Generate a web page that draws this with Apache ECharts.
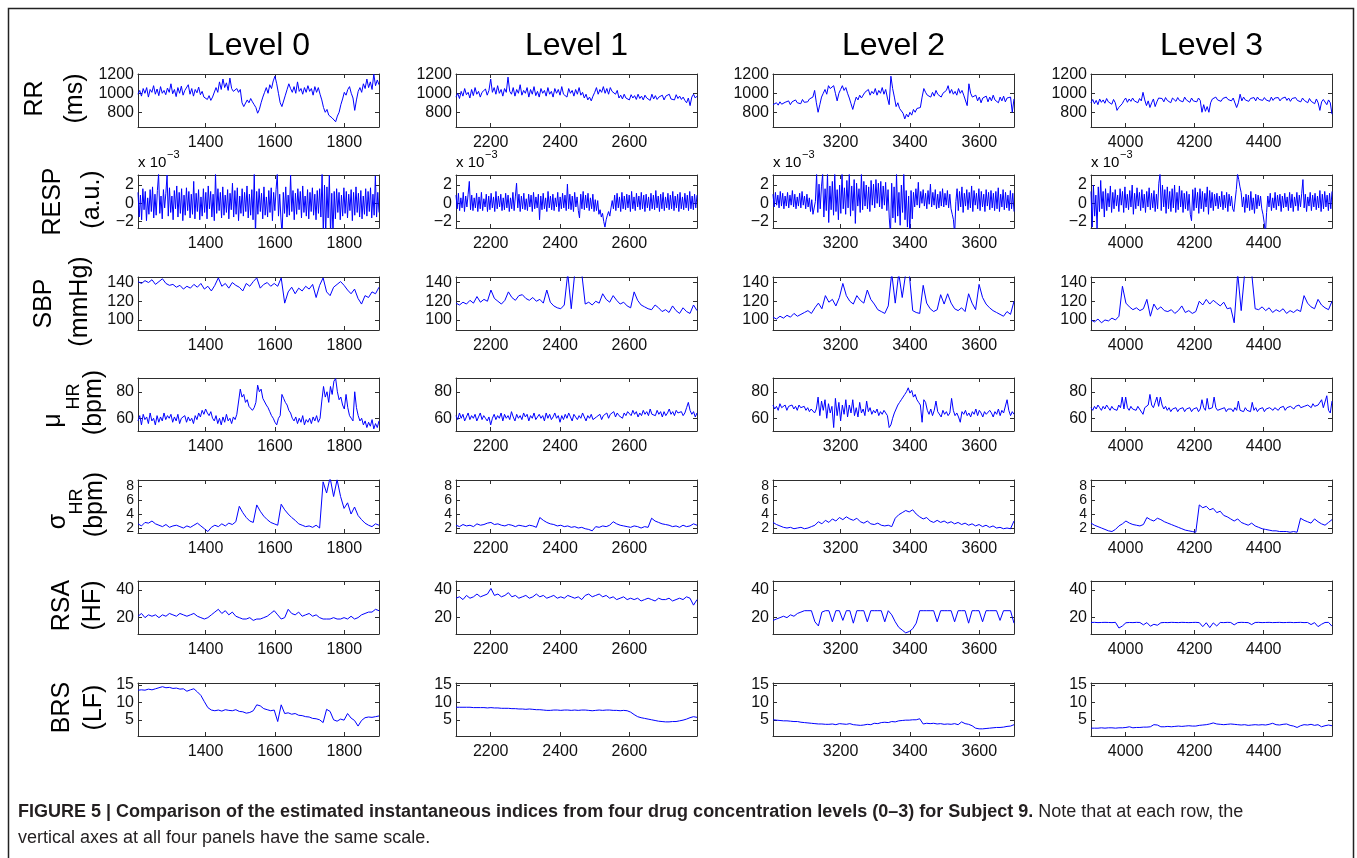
<!DOCTYPE html>
<html>
<head>
<meta charset="utf-8">
<title>Figure 5</title>
<script src="https://cdn.jsdelivr.net/npm/echarts@6/dist/echarts.min.js"></script>
<style>
  html, body { margin: 0; padding: 0; background: #fff; }
  #chart { width: 1357px; height: 858px; }
</style>
</head>
<body>
<div id="chart"></div>
<script>
// column titles, x ranges and ticks
const levels = ['Level 0', 'Level 1', 'Level 2', 'Level 3'];
const xRanges = [[1205, 1900], [2100, 2795], [3005, 3700], [3900, 4598]];
const xTicks = [[1400, 1600, 1800], [2200, 2400, 2600], [3200, 3400, 3600], [4000, 4200, 4400]];

// row scales (same for all four panels of a row)
const yRanges = [[645, 1203], [-2.7, 3.1], [89.3, 145.9], [50.4, 90.4], [1.29, 8.86], [8.2, 46.4], [0.35, 15.56]];
const yTicks = [[800, 1000, 1200], [-2, 0, 2], [100, 120, 140], [60, 80], [2, 4, 6, 8], [20, 40], [5, 10, 15]];

// RR (ms)
const rr0 = [990,1030,970,1050,1000,1060,960,1040,1010,1080,990,1045,975,1070,1000,1030,985,1055,1010,1100,
  995,1040,965,1060,1000,1075,980,1030,1010,1090,990,1050,970,1040,1005,1065,985,1020,960,950,
  935,975,925,960,940,1060,1010,1120,1040,1150,1060,1110,1030,1160,1050,1020,1000,1050,1010,1040,
  900,860,880,930,900,945,910,880,850,790,830,900,960,1010,1060,1000,1090,1050,1130,1180,
  1100,1000,900,860,880,980,1040,1100,1050,1010,1070,1000,1120,1020,1050,990,1060,1010,1080,1020,
  1050,980,1070,1010,1060,990,930,850,800,830,770,790,740,760,700,760,800,880,940,1010,
  980,1040,1070,1000,950,820,930,1020,1060,1010,1100,1050,1150,1060,1120,1040,1200,1080,1140,1090];
const rr1 = [960,1000,945,1020,970,1050,985,1010,950,1040,975,1060,990,1020,960,1010,1000,1045,980,1030,
  1150,1010,1060,990,1080,1000,1040,970,1050,1010,1170,1020,990,1060,970,1040,1000,1090,980,1030,
  1000,1060,960,1040,990,1070,975,1020,960,1050,1000,1030,970,1060,990,1020,960,1050,1000,1040,
  980,1070,990,1010,960,1050,1000,1030,970,1040,990,1060,980,1010,950,990,930,960,920,970,
  1010,1060,990,1040,1010,1070,1000,1050,990,1060,1020,1040,990,1030,950,980,940,990,950,970,
  930,985,950,975,935,990,945,970,930,980,950,965,925,990,940,975,935,960,945,980,
  930,970,950,990,940,960,930,985,945,970,935,960,925,900,950,870,960,990,950,970];
const rr2 = [880,860,900,875,910,885,870,905,890,920,880,910,895,930,900,915,890,935,905,925,
  910,940,920,960,1030,900,800,880,960,1000,1040,990,1080,1050,1070,1080,1000,920,1000,1040,
  1080,1030,1060,1000,950,890,830,900,960,930,980,950,970,1010,990,1040,980,1020,995,1050,
  980,1030,1000,1060,990,1040,950,880,1180,1050,960,860,900,840,860,790,730,780,750,800,
  770,830,800,840,820,850,960,1050,1010,980,1000,960,1010,970,1030,990,1010,960,1000,980,
  1030,1080,1000,1040,990,1020,980,1050,1000,1030,980,1000,870,1100,1000,960,940,980,920,960,
  900,950,930,970,910,960,920,980,930,950,900,960,920,970,910,950,930,960,800,940];
const rr3 = [900,935,890,925,880,940,905,930,895,945,910,925,885,935,900,820,850,830,890,925,
  950,905,940,915,950,920,935,900,945,920,1010,930,870,920,850,900,940,860,910,950,
  930,945,910,955,925,940,900,950,930,915,955,925,945,910,960,930,940,905,950,920,
  940,910,950,925,800,880,810,860,800,900,940,920,960,930,950,915,945,925,960,935,
  945,920,950,930,850,900,990,920,960,930,950,915,945,930,955,920,960,935,950,925,
  955,930,945,915,960,925,950,930,955,920,945,935,960,925,950,915,945,930,955,925,
  940,910,950,925,935,900,945,915,930,890,940,900,820,910,935,945,880,930,900,780];

// RESP (x 10^-3 a.u.)
const resp0 = [1.2,-1.5,0.9,-1.8,1.6,-0.7,1.3,-1.9,0.6,-1.2,1.5,-0.9,1.8,-1.6,1.0,-1.3,1.4,3.2,-1.1,0.8,
  -1.7,1.5,-0.5,1.1,3.1,-1.4,1.7,-1.0,0.8,-1.8,1.4,-0.6,1.9,-1.5,1.2,-1.1,1.6,-1.9,0.9,-1.3,
  1.7,-0.8,1.3,-1.6,1.0,-1.2,2.4,-1.7,1.1,-0.9,1.5,-1.8,0.7,-1.4,1.6,-1.0,1.2,-1.7,1.9,-0.6,
  1.3,-1.5,1.0,-1.9,3.2,-1.1,1.6,-0.8,1.2,-1.6,1.8,-1.3,0.9,-1.0,1.5,-1.7,1.1,-0.7,2.2,-1.5,
  1.4,-1.2,1.7,-1.9,0.8,-1.1,1.6,-1.4,1.2,-0.9,1.9,-1.6,1.0,-1.3,1.5,-1.8,3.2,-3.4,1.3,-1.2,
  1.6,-0.9,1.1,-1.7,1.8,-1.3,0.7,-1.5,1.4,-1.0,1.7,-1.9,1.2,-0.8,1.5,3.2,-1.4,1.0,-1.6,-3.4,
  1.2,-1.1,1.8,-1.5,0.9,-1.3,3.1,-0.9,1.4,-1.8,1.1,-1.2,1.6,-0.7,1.3,-1.6,1.9,-1.0,0.8,-1.4,
  1.5,-1.7,1.2,-0.9,1.7,-1.3,1.0,-1.8,1.4,-1.1,1.6,-1.5,3.2,-3.4,2.0,-3.4,1.8,-1.6,3.1,-3.4,
  1.1,-3.4,1.3,-1.7,1.6,-1.0,1.2,-1.8,0.9,-1.4,1.7,-1.1,1.3,-1.6,1.0,-0.8,1.5,-1.9,1.2,-1.3,
  1.8,-1.0,1.1,-1.5,1.4,-1.7,0.8,-1.2,1.6,-1.4,1.3,-0.9,1.7,-1.6,1.0,-1.3,3.0,-1.5,1.2,-1.0];
const resp1 = [0.9,-0.6,1.1,-0.8,0.6,-0.5,1.2,-0.9,0.8,-0.4,1.0,2.4,-0.7,0.9,-0.8,0.6,-0.5,1.1,-0.9,0.7,
  -0.6,1.2,-0.8,0.5,-0.4,1.0,-0.9,0.8,-0.7,1.1,-0.5,0.7,-0.9,1.3,-0.6,0.8,-0.4,1.0,-0.8,0.6,
  -0.7,1.1,-0.5,0.9,-0.9,0.6,-0.6,1.2,-0.8,0.7,2.2,-0.5,1.0,-0.9,0.8,-0.6,1.1,-0.7,0.5,-0.8,
  1.0,-0.4,0.9,-0.9,1.2,-0.6,0.7,-0.5,1.0,-1.8,0.8,-0.7,1.1,-0.6,0.6,-0.9,1.3,-0.5,0.8,-0.7,
  1.0,-0.8,0.6,-0.4,1.2,-0.9,0.7,-0.6,1.1,-0.5,0.9,-0.8,2.1,-0.6,1.0,-0.7,0.8,-0.9,1.2,-0.4,
  0.7,-0.8,-1.6,1.0,-0.6,1.3,-0.7,0.9,-0.5,1.1,-0.8,0.6,-0.6,1.0,-0.9,0.4,-0.8,0.3,-1.2,-0.7,
  -1.5,-1.1,-2.0,-2.6,-1.8,-1.3,-0.9,-1.4,-0.5,0.3,-0.6,0.9,-0.8,1.1,-0.5,0.7,-0.9,1.2,-0.6,0.8,
  -0.7,1.0,-0.5,0.9,-0.9,1.3,-0.6,0.7,-0.8,1.1,-0.4,0.8,-0.7,1.2,-0.6,0.9,-0.9,1.0,-0.5,0.7,
  -0.8,1.1,-0.6,0.9,-0.7,1.4,-0.5,0.8,-0.9,1.0,-0.6,1.2,-0.8,0.7,-0.5,1.1,-0.7,0.9,-0.6,1.3,
  -0.8,0.8,-0.5,1.0,-0.9,1.2,-0.6,0.7,-0.7,1.1,-0.5,0.9,-0.8,1.3,-0.6,0.8,-0.7,1.0,-0.5,0.9];
const resp2 = [1.0,-0.4,1.2,-0.2,0.9,-0.5,1.3,-0.3,1.1,-0.6,0.8,-0.3,1.2,-0.5,0.9,-0.2,1.4,-0.4,1.0,-0.6,
  0.7,-0.3,1.1,-0.5,1.3,-0.2,0.8,-0.6,1.0,-0.4,0.6,-0.9,0.4,-1.2,-1.4,0.2,3.2,-1.0,2.1,-0.6,
  1.8,3.2,-1.5,1.6,-0.8,3.2,-2.1,1.9,-0.7,2.4,-1.3,3.2,-0.9,1.5,-1.8,2.0,-1.1,3.2,-0.6,1.7,
  -1.2,2.5,-0.5,3.2,-1.4,1.9,-0.8,2.6,-2.2,2.2,-0.3,1.6,-1.0,3.2,-0.7,2.4,-0.3,2.0,-0.6,1.8,
  -0.9,2.5,-0.2,2.1,-0.5,2.6,0.0,2.2,-0.4,2.4,-0.6,1.9,-0.2,2.3,-0.8,1.5,-1.6,-3.4,2.2,-1.6,
  1.8,-2.1,3.2,-1.4,1.2,-2.4,2.0,-1.0,3.2,-1.8,1.4,-2.6,0.8,-3.4,1.4,-1.7,1.2,-0.4,1.6,-0.2,
  2.3,-0.5,1.3,0.0,1.5,-0.3,1.1,-0.6,1.4,-0.1,2.1,-0.4,1.2,-0.2,1.5,-0.6,1.0,-0.5,1.3,-0.3,
  1.6,-0.4,1.1,-0.2,1.4,-0.5,1.0,-0.6,-1.2,-1.8,-3.4,0.2,1.6,-0.8,1.3,-0.4,1.8,-1.0,1.1,-0.3,
  1.5,-0.7,1.2,-0.5,1.9,-0.9,1.4,-0.2,1.1,-0.6,1.6,-0.8,1.3,-0.4,1.0,-0.9,1.5,-0.3,1.2,-0.7,
  1.4,-0.5,1.1,-0.8,1.3,-0.6,1.7,-0.9,1.0,-0.4,1.5,-0.7,1.2,-0.5,0.9,-0.8,1.4,-0.6,1.1,-0.9];
const resp3 = [1.3,-2.6,2.0,-1.4,0.9,-2.8,1.8,-0.9,2.5,-0.6,1.3,-1.5,1.6,-0.8,1.1,-0.4,1.9,-1.0,1.2,-0.6,
  1.5,-0.3,0.9,-0.9,1.6,-0.2,1.3,-1.0,1.8,-0.5,1.0,-0.7,1.4,-0.4,2.0,-1.2,1.1,-0.6,1.7,-0.3,
  1.2,-0.8,1.5,-0.5,1.0,-1.0,1.3,-0.4,1.7,-0.7,1.1,-0.5,1.4,-0.9,1.0,-0.6,2.2,3.2,-0.8,2.0,
  -0.4,1.5,-1.1,1.8,-0.6,1.3,-0.9,1.6,-0.5,2.0,-1.0,1.2,-0.7,1.9,-0.4,1.4,-1.0,1.1,-0.6,1.3,
  -0.8,1.0,-1.2,-1.9,1.5,-0.8,1.7,-0.5,1.2,-1.1,1.6,-0.6,1.3,-0.9,1.1,-0.4,1.8,-1.2,1.4,-0.5,
  1.2,-0.8,1.0,-0.3,1.1,-0.6,0.8,-0.4,1.3,-0.7,0.9,-0.5,1.2,-0.9,1.0,-0.3,0.8,-0.6,-0.9,-1.0,
  1.5,3.2,2.6,1.8,1.2,-0.4,0.7,-1.0,1.0,-0.5,0.9,-0.8,1.3,-0.7,0.6,-1.1,1.0,-0.6,0.9,-0.3,
  0.8,-0.6,-1.2,-2.1,-3.4,-1.0,0.8,-0.4,1.1,-0.8,0.6,-0.5,1.2,-0.7,0.9,-0.3,1.0,-0.9,0.8,-0.5,
  1.1,-0.4,0.7,-0.8,1.2,-0.5,1.0,-0.9,0.7,-0.3,1.2,-0.8,0.9,-0.4,1.1,2.6,-0.5,1.0,-0.9,0.7,
  -0.3,1.2,-0.8,0.9,-0.4,1.1,-0.7,0.8,-0.5,1.4,-0.9,1.0,-0.6,1.3,-0.4,0.9,-0.8,1.1,-0.6,1.3];

// SBP (mmHg)
const sbp0 = [141,139,142,140,143,138,141,144,139,137,138,135,137,133,136,134,138,135,139,133,
  136,131,137,145,136,139,134,140,137,135,131,139,136,141,145,134,138,140,136,139,
  136,145,118,130,135,128,134,131,136,133,138,124,137,145,130,126,135,138,141,137,
  132,128,133,123,117,126,124,130,128,135];
const sbp1 = [118,116,119,117,121,118,125,119,122,120,132,123,120,117,121,130,124,121,126,127,
  123,121,124,120,122,118,132,119,115,113,112,116,150,112,150,150,150,117,119,116,
  120,118,128,122,119,126,121,117,119,115,113,130,121,116,114,112,111,116,113,109,
  111,108,115,110,107,113,109,107,116,110];
const sbp2 = [103,101,104,102,105,103,107,104,106,108,110,107,113,118,112,126,119,122,115,124,
  139,126,120,117,126,121,118,132,122,117,111,109,107,115,150,118,150,124,150,150,
  110,108,107,137,118,112,109,111,127,117,128,118,112,110,113,109,128,118,111,138,
  124,117,113,110,108,106,104,109,106,120];
const sbp3 = [100,98,101,97,100,99,102,100,104,136,118,114,111,113,110,112,122,104,117,111,
  114,110,109,111,107,110,115,108,110,107,109,120,116,122,117,121,118,115,119,112,
  113,97,150,110,150,150,150,112,111,114,110,113,108,111,109,112,107,110,108,111,
  109,126,118,114,112,122,116,113,111,120];

// mu_HR (bpm)
const mu0 = [58,62,55,63,59,61,56,64,58,60,55,62,57,61,58,64,59,62,60,63,
  57,61,58,63,56,60,59,62,57,61,58,60,56,62,59,64,61,66,63,67,
  64,62,65,60,58,62,56,60,55,61,57,63,58,60,56,61,59,63,62,
  82,76,78,72,74,69,70,66,68,72,85,80,82,75,76,70,68,65,62,60,57,
  55,60,62,78,75,72,70,66,64,60,
  58,61,56,60,57,62,55,59,57,60,56,61,58,62,57,60,
  73,84,76,80,72,84,78,88,90,80,74,76,70,67,
  78,68,62,60,58,80,68,62,58,60,
  55,58,53,57,54,59,52,56,53,58];
const mu1 = [62,59,64,60,63,58,61,64,59,62,60,63,58,61,64,59,62,60,58,61,
  55,60,63,59,62,60,64,58,63,60,62,59,65,61,58,63,60,62,59,64,
  61,63,58,62,60,64,59,61,63,60,62,58,64,60,63,59,61,64,60,62,
  57,62,59,63,60,64,61,58,63,61,59,62,60,64,61,58,62,60,63,59,
  58,61,60,63,59,62,61,64,60,63,62,65,61,64,62,63,60,64,62,65,
  64,62,66,63,65,61,64,62,66,63,65,62,67,63,64,62,66,63,65,61,
  65,62,64,67,63,65,62,66,64,63,65,62,64,68,72,66,63,65,61,64];
const mu2 = [70,67,69,66,71,68,67,70,66,69,68,70,67,69,66,70,68,67,69,66,
  68,65,67,66,64,67,
  76,62,73,66,74,60,71,64,69,53,75,62,72,58,70,63,74,
  61,70,64,74,62,68,61,72,64,67,62,73,65,68,63,66,64,67,62,65,63,66,64,
  62,53,55,60,
  64,67,70,72,74,76,78,80,83,79,
  81,76,78,74,72,70,57,74,72,66,
  63,67,62,66,73,65,64,61,66,63,65,62,64,75,66,62,64,61,57,65,
  63,66,62,64,61,65,63,67,62,66,64,61,65,63,62,66,64,61,65,63,
  67,62,66,64,63,74,66,62,65,63];
const mu3 = [68,66,69,67,70,68,66,69,67,70,68,66,69,67,68,66,70,68,76,67,
  76,68,66,69,67,68,66,69,67,66,63,68,67,70,78,70,68,72,76,69,
  76,70,67,69,66,68,65,67,66,68,65,67,66,68,65,67,66,68,65,67,
  66,68,65,67,74,68,66,75,67,66,68,76,68,66,65,67,66,68,65,67,
  66,67,65,68,66,73,66,67,65,68,66,67,65,72,66,68,65,67,66,68,
  65,67,66,68,67,66,68,67,66,68,67,69,66,68,67,69,68,67,69,68,
  70,68,67,69,68,70,69,68,71,69,68,70,69,74,68,67,77,66,64,73];

// sigma_HR (bpm)
const sd0 = [2.6,2.3,2.8,2.7,3.0,2.6,2.4,2.2,2.5,2.1,2.3,2.4,2.2,2.0,2.3,2.1,2.4,2.7,2.3,1.9,
  1.5,2.1,2.4,2.2,2.6,2.3,2.7,2.5,2.9,5.1,4.2,3.5,3.0,2.8,5.3,4.4,3.7,3.2,2.8,2.6,
  2.4,5.4,4.6,4.0,3.5,3.1,2.6,2.4,2.2,2.3,2.1,2.4,2.0,8.6,7.0,9.2,6.5,8.9,6.5,4.8,
  5.6,4.0,5.0,3.8,3.2,2.7,2.4,2.2,2.6,2.4];
const sd1 = [2.4,2.2,2.5,2.3,2.4,2.2,2.6,2.4,2.5,2.7,2.8,2.5,2.6,2.4,2.3,2.5,2.4,2.2,2.4,2.3,
  2.2,2.4,2.3,2.1,3.5,3.1,2.8,2.6,2.5,2.3,2.4,2.2,2.3,2.1,2.2,2.0,2.1,1.9,1.8,1.6,
  2.2,2.1,2.3,2.2,2.4,2.9,2.6,2.4,2.3,2.2,2.1,2.3,2.2,2.0,2.2,2.1,3.4,3.0,2.8,2.6,
  2.5,2.4,2.2,2.3,2.1,2.4,2.2,2.3,2.6,2.4];
const sd2 = [2.8,2.5,2.3,2.1,2.0,2.1,1.9,2.0,2.1,1.9,2.0,2.2,2.4,2.9,2.6,3.1,2.8,3.3,3.0,3.5,
  3.2,3.6,3.3,3.1,3.4,2.9,2.7,3.0,2.6,2.5,2.7,2.4,2.3,2.4,2.2,3.4,3.9,4.2,4.5,4.3,
  4.6,4.0,3.6,3.3,3.5,3.0,2.8,3.1,2.8,3.0,2.7,2.9,2.6,2.8,2.5,2.7,2.4,2.6,2.3,2.5,
  2.2,2.4,2.1,2.3,2.0,2.1,1.9,2.0,1.9,3.0];
const sd3 = [2.7,2.4,2.2,2.0,1.8,1.6,1.5,1.8,2.3,2.6,3.0,2.7,2.5,2.4,2.3,2.5,3.5,3.2,3.0,3.4,
  3.2,2.9,2.7,2.5,2.3,2.1,1.9,1.7,1.6,1.5,1.4,5.3,4.9,5.1,4.6,4.8,4.2,4.4,3.8,3.6,
  3.3,3.0,3.3,2.8,2.6,2.4,2.7,2.3,2.1,1.9,1.8,1.7,1.6,1.6,1.5,1.5,1.5,1.4,1.5,1.4,
  3.4,3.1,2.9,2.7,3.3,2.9,2.6,2.4,2.8,3.2];

// RSA (HF)
const rsa0 = [21,23,20,22,21,22,20,22,21,23,22,21,23,22,21,22,23,21,20,19,
  20,22,24,26,23,25,22,24,21,20,19,19,20,18,19,19,20,21,23,25,
  22,19,20,26,23,22,24,21,22,23,21,22,20,19,19,19,20,19,19,20,
  19,21,19,20,22,23,24,24,26,25];
const rsa1 = [34,35,33,36,34,35,37,35,36,37,41,36,37,35,36,38,35,36,34,35,
  36,34,35,37,35,36,34,35,36,34,35,34,36,35,34,35,33,36,37,35,
  36,37,35,36,34,35,33,34,35,33,34,33,34,32,33,34,33,32,34,33,
  33,34,32,33,34,33,35,34,29,33];
const rsa2 = [18,19,20,21,20,22,21,23,24,25,25,25,17,14,24,25,25,17,25,25,
  18,25,25,16,25,25,25,17,25,25,25,25,17,25,22,17,13,11,9,10,
  12,16,25,25,25,25,25,17,25,25,25,25,17,25,25,25,16,25,25,25,
  17,25,25,25,25,18,25,25,25,16];
const rsa3 = [16.5,16.6,16.4,16.5,16.6,16.5,16.4,16.6,12.5,14.0,16.3,16.5,16.4,16.6,16.5,14.8,16.4,13.8,15.2,14.5,
  16.3,16.5,16.4,16.6,16.5,16.4,16.6,16.5,16.4,16.5,16.6,16.4,13.5,16.3,12.8,16.2,14.0,16.5,16.4,16.6,
  16.5,14.8,16.4,16.6,16.5,16.4,15.0,16.5,16.6,16.4,16.5,16.6,16.4,16.5,16.6,16.4,16.5,16.6,16.4,16.5,
  16.6,16.4,16.5,15.0,16.4,13.5,15.2,16.5,16.6,13.8];

// BRS (LF)
const brs0 = [13.5,13.6,13.5,13.8,13.6,13.9,14.2,14.5,14.2,14.3,14.0,14.1,13.8,13.9,13.2,13.6,13.9,13.0,12.0,10.2,
  8.5,7.8,7.6,7.8,7.5,7.9,7.7,7.6,7.9,7.4,7.3,6.9,7.1,7.6,9.3,9.0,8.2,7.9,7.6,7.8,
  4.5,9.3,6.8,7.0,6.6,6.8,6.3,6.2,5.9,5.8,5.4,5.3,5.0,4.2,8.0,7.4,5.0,4.6,5.2,4.9,
  6.8,5.5,4.8,3.2,4.8,5.6,5.8,5.7,5.9,6.1];
const brs1 = [8.6,8.6,8.6,8.6,8.6,8.5,8.5,8.5,8.5,8.4,8.5,8.4,8.4,8.3,8.3,8.3,8.2,8.2,8.1,8.1,
  8.0,8.1,8.0,7.9,7.9,7.8,7.7,7.7,7.8,7.8,7.7,7.8,7.8,7.7,7.8,7.7,7.8,7.8,7.7,7.6,
  7.7,7.8,7.7,7.8,7.8,7.7,7.7,7.6,7.7,7.6,7.2,6.5,5.9,5.6,5.4,5.2,5.0,4.8,4.6,4.5,
  4.4,4.4,4.5,4.5,4.7,4.9,5.2,5.6,5.9,5.7];
const brs2 = [5.0,4.9,4.8,4.7,4.7,4.6,4.5,4.5,4.3,4.2,4.1,4.0,3.9,3.8,3.8,3.7,3.7,3.8,3.6,3.9,
  3.8,3.7,3.9,3.6,3.5,3.4,3.5,3.7,3.6,4.0,3.9,4.2,4.3,4.2,4.5,4.4,4.7,4.8,4.9,4.9,
  5.0,5.0,5.3,3.8,4.0,3.9,4.0,3.8,3.9,3.7,3.8,3.7,3.9,3.6,4.4,3.9,3.7,3.3,2.6,2.4,
  2.4,2.5,2.6,2.7,2.8,2.8,2.9,3.1,3.2,3.6];
const brs3 = [2.6,2.6,2.6,2.7,2.6,2.7,2.7,2.6,2.7,2.7,2.8,3.0,2.7,2.8,2.8,2.9,2.9,3.0,3.6,3.5,
  3.0,3.0,3.1,3.0,3.1,3.2,3.1,3.2,3.3,3.2,3.2,3.4,3.5,3.6,3.8,4.1,3.8,3.7,3.6,3.7,
  3.8,3.7,3.6,3.5,3.6,3.4,3.5,3.6,3.5,3.6,3.5,3.7,4.0,3.6,3.5,3.7,3.8,3.4,3.2,2.8,
  3.3,3.6,3.5,3.7,3.4,3.6,3.0,3.3,3.5,3.3];

const rows = [
  [rr0, rr1, rr2, rr3],
  [resp0, resp1, resp2, resp3],
  [sbp0, sbp1, sbp2, sbp3],
  [mu0, mu1, mu2, mu3],
  [sd0, sd1, sd2, sd3],
  [rsa0, rsa1, rsa2, rsa3],
  [brs0, brs1, brs2, brs3]
];

// layout
const FONT = "'Liberation Sans', Arial, Helvetica, sans-serif";
const colLeft = [138, 456, 773, 1091];
const rowTop = [74, 175, 277, 378, 480, 581, 683];
const PW = 241, PH = 53;
const AX = '#2e2e2e';
const yLabelSize = [16, 16, 16, 16, 14, 16, 16];

const chart = echarts.init(document.getElementById('chart'), null, { renderer: 'canvas' });

const grids = [], xAxes = [], yAxes = [], series = [];
const minus = v => (v < 0 ? '\u2212' + Math.abs(v) : String(v));

rows.forEach((cols, r) => {
  cols.forEach((vals, c) => {
    const g = grids.length;
    grids.push({ left: colLeft[c], top: rowTop[r], width: PW, height: PH, containLabel: false });
    const [x0, x1] = xRanges[c];
    const line = { lineStyle: { color: AX, width: 1 } };
    const xBase = {
      gridIndex: g, type: 'value', min: x0, max: x1,
      axisLine: { show: true, onZero: false, lineStyle: { color: AX, width: 1 } },
      axisTick: { show: true, inside: true, length: 4, customValues: xTicks[c], ...line },
      splitLine: { show: false }
    };
    xAxes.push({ ...xBase, position: 'bottom',
      axisLabel: { show: true, customValues: xTicks[c], margin: 8, fontSize: 16, fontFamily: FONT, color: '#111',
        showMinLabel: true, showMaxLabel: true, hideOverlap: false, formatter: v => String(v) } });
    xAxes.push({ ...xBase, position: 'top', axisLabel: { show: false } });
    const yBase = {
      gridIndex: g, type: 'value', min: yRanges[r][0], max: yRanges[r][1],
      axisLine: { show: true, onZero: false, lineStyle: { color: AX, width: 1 } },
      axisTick: { show: true, inside: true, length: 4, customValues: yTicks[r], ...line },
      splitLine: { show: false }
    };
    yAxes.push({ ...yBase, position: 'left',
      axisLabel: { show: true, customValues: yTicks[r], margin: 4, fontSize: yLabelSize[r], lineHeight: 12,
        fontFamily: FONT, color: '#111', showMinLabel: true, showMaxLabel: true, hideOverlap: false, formatter: minus } });
    yAxes.push({ ...yBase, position: 'right', axisLabel: { show: false } });

    const n = vals.length;
    const step = (x1 - x0) / (n - 1);
    series.push({
      type: 'line', xAxisIndex: 2 * g, yAxisIndex: 2 * g,
      data: vals.map((v, i) => [x0 + i * step, v]),
      showSymbol: false, symbol: 'none', clip: true, silent: true,
      lineStyle: { color: '#0000ff', width: 1 }
    });
  });
});

// graphic texts
function txt(text, x, y, size, align) {
  return {
    type: 'text', x, y, silent: true,
    style: { text, fontSize: size, fontFamily: FONT, fill: '#000', textAlign: align || 'center', textVerticalAlign: 'middle' }
  };
}
function vtxt(text, x, y, size) {
  const t = txt(text, x, y, size);
  t.rotation = Math.PI / 2;
  return t;
}

const graphics = [];
graphics.push({ type: 'rect', silent: true, shape: { x: 8.5, y: 8.5, width: 1345, height: 880 },
  style: { fill: 'none', stroke: '#222', lineWidth: 1.5 } });

levels.forEach((t, c) => graphics.push(txt(t, colLeft[c] + PW / 2, 46, 32)));

// x 10^-3 multipliers above the RESP panels
colLeft.forEach(l => {
  graphics.push(txt('x 10', l, 163, 15, 'left'));
  graphics.push(txt('\u22123', l + 29, 155, 11, 'left'));
});

// row labels (two lines, rotated)
const mid = r => rowTop[r] + PH / 2 - 2;
const S = 25;
graphics.push(vtxt('RR', 35, mid(0), S), vtxt('(ms)', 75, mid(0), S));
graphics.push(vtxt('RESP', 53, mid(1) + 2, S), vtxt('(a.u.)', 92, mid(1), S));
graphics.push(vtxt('SBP', 44, mid(2) + 2, S), vtxt('(mmHg)', 80, mid(2), S));
graphics.push(vtxt('\u03bc', 53, mid(3) + 18, S), vtxt('HR', 74, mid(3) - 6, 18), vtxt('(bpm)', 94, mid(3), S));
graphics.push(vtxt('\u03c3', 58, mid(4) + 17, S), vtxt('HR', 77, mid(4) - 3, 18), vtxt('(bpm)', 95, mid(4), S));
graphics.push(vtxt('RSA', 62, mid(5), S), vtxt('(HF)', 93, mid(5), S));
graphics.push(vtxt('BRS', 62, mid(6), S), vtxt('(LF)', 94, mid(6), S));

// caption
graphics.push({
  type: 'text', x: 18, y: 812, silent: true,
  style: {
    text: '{b|FIGURE 5 | Comparison of the estimated instantaneous indices from four drug concentration levels (0\u20133) for Subject 9.}{n| Note that at each row, the}',
    textVerticalAlign: 'middle', textAlign: 'left',
    rich: {
      b: { fontSize: 18, fontWeight: 'bold', fontFamily: FONT, fill: '#231f20' },
      n: { fontSize: 18, fontFamily: FONT, fill: '#231f20' }
    }
  }
});
graphics.push({
  type: 'text', x: 18, y: 838, silent: true,
  style: { text: 'vertical axes at all four panels have the same scale.', fontSize: 18, fontFamily: FONT,
    fill: '#231f20', textAlign: 'left', textVerticalAlign: 'middle' }
});

chart.setOption({
  animation: false,
  backgroundColor: '#fff',
  grid: grids,
  xAxis: xAxes,
  yAxis: yAxes,
  series: series,
  graphic: { elements: graphics }
});
window.addEventListener('resize', () => chart.resize());
</script>
</body>
</html>
